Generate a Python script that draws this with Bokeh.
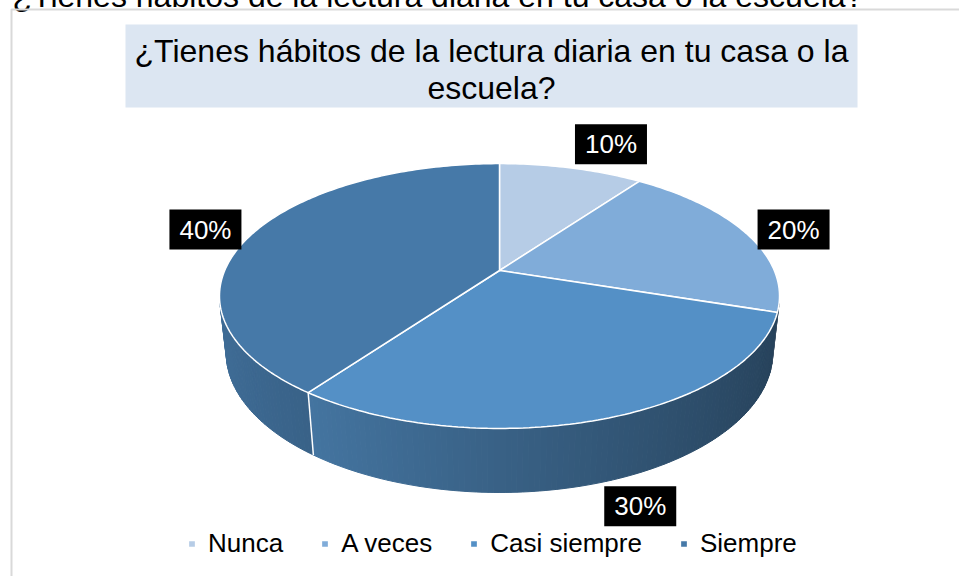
import math
import numpy as np
from bokeh.plotting import figure
from bokeh.models import Range1d, Legend, LegendItem
from bokeh.core.properties import value
from bokeh.embed import file_html
from bokeh.resources import INLINE

# ---------------- data ----------------
categories = ["Nunca", "A veces", "Casi siempre", "Siempre"]
values = [10, 20, 30, 40]
pct_labels = ["10%", "20%", "30%", "40%"]
colors = ["#b6cce6", "#80acd9", "#5490c6", "#4679a8"]
title_lines = ["¿Tienes hábitos de la lectura diaria en tu casa o la", "escuela?"]
header_text = "¿Tienes hábitos de la lectura diaria en tu casa o la escuela?"

FONT = "Liberation Sans"

# ---------------- 3D pie projection ----------------
CX, CY = 499.0, 270.0
K = 1264.0
SE, CE = 0.464, 0.886
D = 4.6
H = 0.234


def proj(X, Z, h=0.0):
    den = D + h * SE - Z * CE
    return CX + K * X / den, CY + K * (Z * SE + h * CE) / den


def rim(theta, h=0.0, r=1.0):
    return proj(r * math.sin(theta), -r * math.cos(theta), h)


def hex_to_rgb(c):
    c = c.lstrip("#")
    return tuple(int(c[i:i + 2], 16) for i in (0, 2, 4))


def shade(c, f):
    r, g, b = hex_to_rgb(c)
    return "#%02x%02x%02x" % tuple(max(0, min(255, int(round(v * f)))) for v in (r, g, b))


total = float(sum(values))
cum = np.concatenate([[0.0], np.cumsum(values)]) / total
t_start = 2 * math.pi * cum[:-1]
t_end = 2 * math.pi * cum[1:]

p = figure(width=967, height=584, x_range=Range1d(-8, 959), y_range=Range1d(576, -8),
           output_backend="svg", toolbar_location=None, min_border=0)
p.margin = (-8, -8, -8, -8)
p.axis.visible = False
p.grid.visible = False
p.outline_line_color = None
p.background_fill_color = "#ffffff"
p.border_fill_color = "#ffffff"

# clipped header text from the surrounding document
p.text(x=[12], y=[-5], text=[header_text], text_font=value(FONT), text_font_size="32px",
       text_color="#000000", text_align="left", text_baseline="middle")

# chart frame border
p.line(x=[11, 11, 965], y=[580, 9, 9], line_color="#d9d9d9", line_width=2)

# title box
p.quad(left=[125], right=[857], top=[24], bottom=[107], fill_color="#dce6f2", line_color=None)
p.text(x=[491, 491], y=[50.5, 87.5], text=title_lines, text_font=value(FONT), text_font_size="32px",
       text_color="#000000", text_align="center", text_baseline="middle")

# ---------------- side walls ----------------
ts1 = math.acos(-1.0 / (D * CE))
ts2 = 2 * math.pi - ts1
sxs, sys_, scol = [], [], []
for i in range(len(values)):
    a = max(t_start[i], ts1)
    b = min(t_end[i], ts2)
    if b <= a:
        continue
    n = max(2, int(math.degrees(b - a)))
    ths = np.linspace(a, b, n + 1)
    for j in range(n):
        t0, t1 = ths[j], ths[j + 1]
        p1 = rim(t0); p2 = rim(t1); p3 = rim(t1, H); p4 = rim(t0, H)
        sxs.append([p1[0], p2[0], p3[0], p4[0]])
        sys_.append([p1[1], p2[1], p3[1], p4[1]])
        f = 0.675 - 0.225 * math.sin(0.5 * (t0 + t1))
        scol.append(shade(colors[i], f))
p.patches(xs=sxs, ys=sys_, fill_color=scol, line_color=scol, line_width=1)

# white edges at slice boundaries on the side (skip ones hugging the silhouette)
margin_ang = math.radians(10)
for t in t_start:
    if ts1 + margin_ang < t < ts2 - margin_ang:
        a = rim(t); b = rim(t, H)
        p.line(x=[a[0], b[0]], y=[a[1], b[1]], line_color="#ffffff", line_width=1.5)

# ---------------- top faces ----------------
renderers = []
for i in range(len(values)):
    n = max(4, int(math.degrees(t_end[i] - t_start[i])))
    ths = np.linspace(t_start[i], t_end[i], n + 1)
    pts = [proj(0, 0)] + [rim(t) for t in ths]
    r = p.patch(x=[q[0] for q in pts], y=[q[1] for q in pts], fill_color=colors[i],
                line_color="#ffffff", line_width=1.5)
    renderers.append(r)

# ---------------- data labels ----------------
BW, BH = 72, 40
lx, ly = [], []
for i in range(len(values)):
    tm = 0.5 * (t_start[i] + t_end[i])
    dx, dy = math.sin(tm), -math.cos(tm)
    hh = H if math.cos(tm) < 0 else 0.0
    ax, ay = rim(tm, hh)
    ox = math.copysign(BW / 2, dx) + dx * 12
    oy = dy * abs(dy) * BH / 2 + dy * 6
    lx.append(ax + ox)
    ly.append(ay + oy)
p.rect(x=lx, y=ly, width=BW, height=BH, fill_color="#000000", line_color=None)
p.text(x=lx, y=ly, text=pct_labels, text_font=value(FONT), text_font_size="26px",
       text_color="#ffffff", text_align="center", text_baseline="middle")

# ---------------- legend ----------------
legend = Legend(items=[LegendItem(label=c, renderers=[r]) for c, r in zip(categories, renderers)],
                orientation="horizontal", location=(195, 17),
                label_text_font=FONT, label_text_font_size="26px", label_text_color="#000000",
                glyph_width=9, glyph_height=9, label_standoff=12, spacing=37,
                padding=0, margin=0, border_line_alpha=0, background_fill_alpha=0)
p.add_layout(legend)

open("out.html", "w", encoding="utf-8").write(file_html(p, INLINE))
